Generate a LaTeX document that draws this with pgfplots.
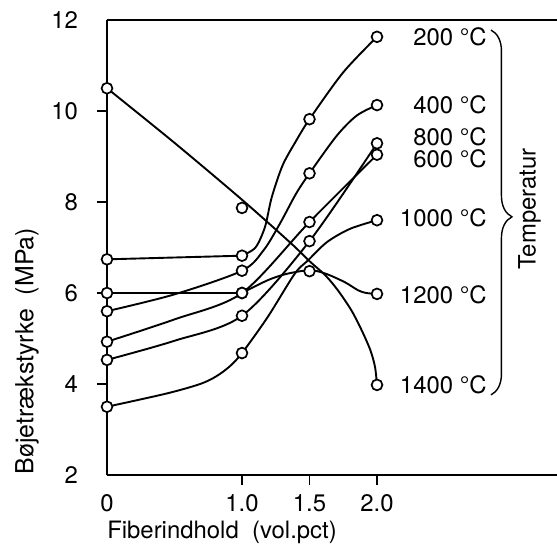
\documentclass[border=0pt]{standalone}
\usepackage{pgfplots}
\pgfplotsset{compat=1.18}
\usepackage{fontspec}
\setmainfont{TeX Gyre Heros}
\usetikzlibrary{decorations.pathreplacing}
\newcommand{\lbl}{\fontsize{12}{14}\selectfont}
\pgfplotsset{
  dat/.style={only marks, mark=*, mark size=2.7bp,
    mark options={fill=white, draw=black, solid, line width=0.85bp}},
  crv/.style={black, line width=0.95bp, no marks},
}
\begin{document}
\begin{tikzpicture}
\begin{axis}[
  scale only axis, width=225bp, height=227.5bp,
  xmin=0, xmax=3.3333, ymin=2, ymax=12,
  axis x line=box, axis y line=left,
  axis line style={line width=0.7bp, black},
  y axis line style={-},
  clip=false,
  tick align=outside, major tick length=5bp,
  every tick/.style={black, line width=0.7bp},
  xtick pos=bottom, ytick pos=left,
  xtick={1,1.5,2}, xticklabels={1.0,1.5,2.0},
  extra x ticks={0}, extra x tick labels={0},
  extra x tick style={tick style={draw=none}},
  ytick={4,6,8,10},
  extra y ticks={2,12}, extra y tick labels={2,12},
  extra y tick style={tick style={draw=none}},
  /pgf/number format/assume math mode=true,
  ticklabel style={font=\lbl},
  xticklabel style={yshift=-1.5bp},
  yticklabel style={xshift=-6bp},
  xlabel={Fiberindhold\ \ (vol.pct)},
  ylabel={Bøjetrækstyrke\ \ (MPa)},
  every axis x label/.style={at={(axis description cs:0.2556,-0.139)}, anchor=base, font=\lbl},
  every axis y label/.style={at={(axis description cs:-0.1778,0.2725)}, rotate=90, anchor=center, font=\fontsize{12.5}{14}\selectfont},
]
% ---- curves ----
% 200 C
\addplot[crv, sharp plot] coordinates {(0,6.74) (1,6.82)};
\addplot[crv, smooth, tension=0.5] coordinates {(1,6.82) (1.1,7.0) (1.17,7.45) (1.22,8.1) (1.3,8.8) (1.4,9.34) (1.5,9.82) (1.75,10.85) (2,11.63)};
% 400 C
\addplot[crv, smooth, tension=0.5] coordinates {(0,5.60) (0.5,5.97) (1,6.49) (1.16,6.94) (1.28,7.52) (1.4,8.18) (1.5,8.63) (1.7,9.45) (1.85,9.9) (2,10.13)};
% 600 C
\addplot[crv, smooth, tension=0.5] coordinates {(0,4.93) (0.5,5.42) (1,6.0) (1.5,7.56) (2,9.04)};
% 800 C
\addplot[crv, smooth, tension=0.5] coordinates {(0,4.53) (0.5,4.95) (1,5.5) (1.5,7.14) (2,9.29)};
% 1000 C
\addplot[crv, smooth, tension=0.5] coordinates {(0,3.5) (0.44,3.79) (0.69,4.0) (0.81,4.17) (0.91,4.39) (1,4.68) (1.19,5.47) (1.39,6.42) (1.49,6.72) (1.63,7.12) (1.8,7.41) (2,7.6)};
% 1200 C
\addplot[crv, sharp plot] coordinates {(0,6.0) (1,6.0)};
\addplot[crv, smooth, tension=0.5] coordinates {(1,6.0) (1.19,6.28) (1.33,6.42) (1.5,6.5) (1.615,6.43) (1.76,6.24) (1.86,6.06) (1.92,6.0) (2,5.98)};
% 1400 C
\addplot[crv, smooth, tension=0.5] coordinates {(0,10.5) (0.5,9.3) (1,8.05) (1.36,7.1) (1.5,6.7) (1.62,6.38) (1.71,6.06) (1.81,5.62) (1.885,5.19) (1.95,4.75) (1.985,4.38) (2,3.98)};
% ---- data markers ----
\addplot[dat] coordinates {(0,6.74) (1,6.82) (1.5,9.82) (2,11.63)};
\addplot[dat] coordinates {(0,5.60) (1,6.49) (1.5,8.63) (2,10.13)};
\addplot[dat] coordinates {(0,4.93) (1,6.0) (1.5,7.56) (2,9.04)};
\addplot[dat] coordinates {(0,4.53) (1,5.5) (1.5,7.14) (2,9.29)};
\addplot[dat] coordinates {(0,3.5) (1,4.68) (2,7.6)};
\addplot[dat] coordinates {(0,6.0) (1,6.0) (1.5,6.48) (2,5.98)};
\addplot[dat] coordinates {(0,10.5) (1,7.87) (2,3.98)};
% ---- labels ----
\node[anchor=east, inner sep=0pt, font=\lbl] at (axis cs:2.815,11.63) {200 °C};
\node[anchor=east, inner sep=0pt, font=\lbl] at (axis cs:2.815,10.13) {400 °C};
\node[anchor=east, inner sep=0pt, font=\lbl] at (axis cs:2.815,9.43) {800 °C};
\node[anchor=east, inner sep=0pt, font=\lbl] at (axis cs:2.815,8.95) {600 °C};
\node[anchor=east, inner sep=0pt, font=\lbl] at (axis cs:2.815,7.65) {1000 °C};
\node[anchor=east, inner sep=0pt, font=\lbl] at (axis cs:2.815,5.97) {1200 °C};
\node[anchor=east, inner sep=0pt, font=\lbl] at (axis cs:2.815,3.98) {1400 °C};
\draw[decorate, decoration={brace, amplitude=10.5bp, aspect=0.512}, line width=0.7bp]
  (axis cs:2.844,11.78) -- (axis cs:2.844,3.76);
\node[rotate=90, font=\lbl] at (axis cs:3.13,7.85) {Temperatur};
\end{axis}
\pgfresetboundingbox
\path (-53.5bp,-35bp) rectangle (225bp,237.5bp);
\end{tikzpicture}
\end{document}
